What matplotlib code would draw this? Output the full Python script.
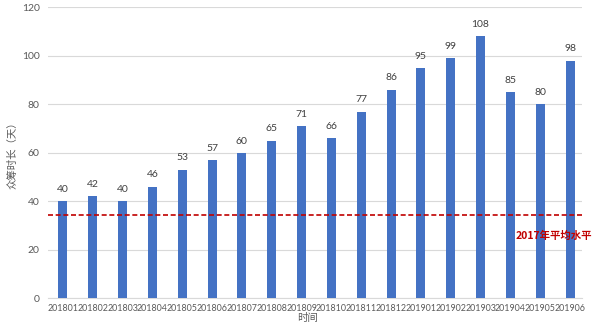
import matplotlib
matplotlib.use("Agg")
import matplotlib.pyplot as plt

months = ["201801", "201802", "201803", "201804", "201805", "201806", "201807",
          "201808", "201809", "201810", "201811", "201812", "201901", "201902",
          "201903", "201904", "201905", "201906"]
durations = [40, 42, 40, 46, 53, 57, 60, 65, 71, 66, 77, 86, 95, 99, 108, 85, 80, 98]
avg_2017 = 34.5
avg_label = "2017年平均水平"
y_label = "众筹时长（天）"
x_label = "时间"
y_ticks = [0, 20, 40, 60, 80, 100, 120]

cjk = ["Noto Sans CJK SC", "DejaVu Sans"]
num_font = ["Lato", "DejaVu Sans"]
text_gray = "#595959"
bar_blue = "#4472C4"
red = "#C00000"

fig = plt.figure(figsize=(6.0, 3.23), dpi=100)
ax = fig.add_axes([0.08, 0.0765, 0.89, 0.901])

x = list(range(len(months)))
ax.bar(x, durations, width=0.3, color=bar_blue, zorder=3)

for xi, v in zip(x, durations):
    ax.text(xi, v + 3, str(v), ha="center", va="bottom", fontsize=7.5,
            color="#404040", family=num_font, zorder=4)

ax.axhline(avg_2017, color=red, linestyle=(0, (3, 1.6)), linewidth=1.2, zorder=5)
ax.text(17.74, 25.8, avg_label, ha="right", va="center", fontsize=7.5,
        color=red, family=cjk, fontweight="bold", zorder=6)

ax.set_xlim(-0.5, 17.4)
ax.set_ylim(0, 120)
ax.set_yticks(y_ticks)
ax.set_xticks(x)
ax.set_xticklabels(months)
ax.grid(axis="y", color="#D9D9D9", linewidth=0.8, zorder=0)
for s in ["top", "right", "left"]:
    ax.spines[s].set_visible(False)
ax.spines["bottom"].set_color("#D9D9D9")
ax.spines["bottom"].set_linewidth(0.8)
ax.tick_params(axis="both", length=0, colors=text_gray)
ax.tick_params(axis="x", pad=4)
ax.tick_params(axis="y", pad=6)
for lab in ax.get_xticklabels():
    lab.set_fontfamily(num_font)
    lab.set_fontsize(6.4)
for lab in ax.get_yticklabels():
    lab.set_fontfamily(num_font)
    lab.set_fontsize(7.5)

ax.set_ylabel(y_label, family=cjk, fontsize=7.5, color=text_gray)
ax.yaxis.set_label_coords(-0.058, 0.5)
fig.text(0.512, 0.0, x_label, ha="center", va="bottom", family=cjk,
         fontsize=7.5, color=text_gray)

fig.savefig("out.png", dpi=100)
